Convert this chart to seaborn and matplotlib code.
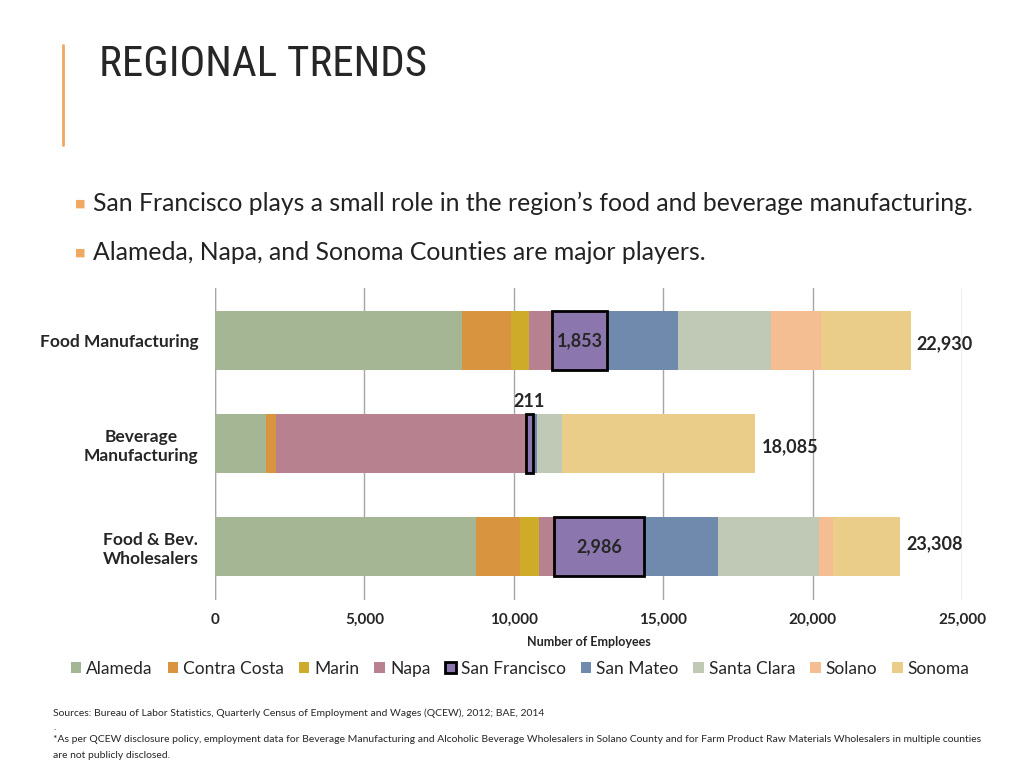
import numpy as np
import matplotlib
matplotlib.use("Agg")
import matplotlib.pyplot as plt
from matplotlib.patches import Patch
from matplotlib import font_manager
import seaborn as sns

# data (employees by county)
categories = ["Food Manufacturing", "Beverage\nManufacturing", "Food & Bev.\nWholesalers"]
counties = ["Alameda", "Contra Costa", "Marin", "Napa", "San Francisco",
            "San Mateo", "Santa Clara", "Solano", "Sonoma"]
alameda = [8260, 1700, 8740]
contra_costa = [1640, 330, 1480]
marin = [625, 0, 640]
napa = [745, 8385, 500]
san_francisco = [1853, 211, 2986]
san_mateo = [2385, 145, 2475]
santa_clara = [3100, 850, 3400]
solano = [1680, 0, 445]
sonoma = [3000, 6465, 2265]
total_labels = ["22,930", "18,085", "23,308"]

colors = ["#A4B693", "#D8943F", "#CFAB2A", "#B8818F", "#8B76AD",
          "#6F8AAD", "#BFC9B5", "#F4BD92", "#E9CD89"]

series = [alameda, contra_costa, marin, napa, san_francisco,
          san_mateo, santa_clara, solano, sonoma]

sns.set_style("white")
plt.rcParams['font.family'] = ['Lato', 'DejaVu Sans']

# pick a narrow face for the title if one is installed
names = {f.name for f in font_manager.fontManager.ttflist}
title_family = 'DejaVu Sans'
for cand in ['Liberation Sans Narrow', 'Roboto Condensed', 'DejaVu Sans Condensed']:
    if cand in names:
        title_family = cand
        break

fig = plt.figure(figsize=(10.24, 7.68), dpi=100)

# slide header
fig.add_artist(plt.Line2D([0.0615, 0.0615], [1 - 45/768, 1 - 145/768], color="#F0A860", lw=2))
fig.text(0.097, 1 - 65/768, "REGIONAL TRENDS", fontsize=31, color="#262626",
         family=title_family, stretch='condensed', va='center', ha='left')

bullets = ["San Francisco plays a small role in the region\u2019s food and beverage manufacturing.",
           "Alameda, Napa, and Sonoma Counties are major players."]
for i, b in enumerate(bullets):
    y = 1 - (203 + 49 * i) / 768
    fig.text(0.073, y, "\u25A0", fontsize=8, color="#F0A860", va='center', ha='left')
    fig.text(0.091, y, b, fontsize=17.8, color="#222222", va='center', ha='left')

ax = fig.add_axes([215/1024, 1 - 600/768, 747/1024, 312/768])

y = np.arange(len(categories))
left = np.zeros(len(categories))
for name, vals, c in zip(counties, series, colors):
    vals = np.array(vals, dtype=float)
    if name == "San Francisco":
        ax.barh(y, vals, left=left, height=0.57, color=c, edgecolor="black", linewidth=2, zorder=4)
        for i, v in enumerate(vals):
            cx = left[i] + v / 2
            if v > 1000:
                ax.text(cx, y[i], f"{int(v):,}", ha='center', va='center', fontsize=13,
                        fontweight='bold', zorder=5)
            else:
                ax.text(cx, y[i] - 0.41, f"{int(v):,}", ha='center', va='center', fontsize=13,
                        fontweight='bold', zorder=5)
    else:
        ax.barh(y, vals, left=left, height=0.57, color=c, edgecolor="none", zorder=3)
    left += vals

for i, t in enumerate(total_labels):
    ax.text(left[i] + 200, y[i] + (0.03 if i < 2 else -0.03), t, ha='left', va='center',
            fontsize=13, fontweight='bold')

ax.set_xlim(0, 25000)
ax.set_ylim(2.52, -0.51)
ax.set_xticks([0, 5000, 10000, 15000, 20000, 25000])
ax.set_xticklabels(["0", "5,000", "10,000", "15,000", "20,000", "25,000"],
                   fontsize=11, fontweight='bold')
ax.set_yticks(y)
ax.set_yticklabels(categories, fontsize=12.5, fontweight='bold', multialignment='center')
ax.tick_params(axis='x', length=0, pad=9)
ax.tick_params(axis='y', length=0, pad=12)
ax.grid(axis='x', color="#A6A6A6", lw=1, zorder=0)
ax.set_axisbelow(True)
for s in ax.spines.values():
    s.set_visible(False)
ax.axvline(0, color="#A6A6A6", lw=1, zorder=1)
ax.set_xlabel("Number of Employees", fontsize=9, fontweight='bold', labelpad=7)

handles = []
for name, c in zip(counties, colors):
    if name == "San Francisco":
        handles.append(Patch(facecolor=c, edgecolor="black", linewidth=2, label=name))
    else:
        handles.append(Patch(facecolor=c, edgecolor="none", label=name))
fig.legend(handles=handles, loc='center', bbox_to_anchor=(0.508, 1 - 669/768), ncol=9,
           frameon=False, fontsize=12.5, handlelength=0.6, handleheight=0.6,
           handletextpad=0.3, columnspacing=0.85)

fig.text(0.052, 1 - 713/768, "Sources: Bureau of Labor Statistics, Quarterly Census of Employment and Wages (QCEW), 2012; BAE, 2014",
         fontsize=7.5, va='center')
fig.text(0.052, 1 - 728/768, ".", fontsize=7.5, va='center')
fig.text(0.052, 1 - 740/768, "*As per QCEW disclosure policy, employment data for Beverage Manufacturing and Alcoholic Beverage Wholesalers in Solano County and for Farm Product Raw Materials Wholesalers in multiple counties",
         fontsize=7.5, va='center')
fig.text(0.052, 1 - 755/768, "are not publicly disclosed.", fontsize=7.5, va='center')

fig.savefig("out.png", dpi=100)
